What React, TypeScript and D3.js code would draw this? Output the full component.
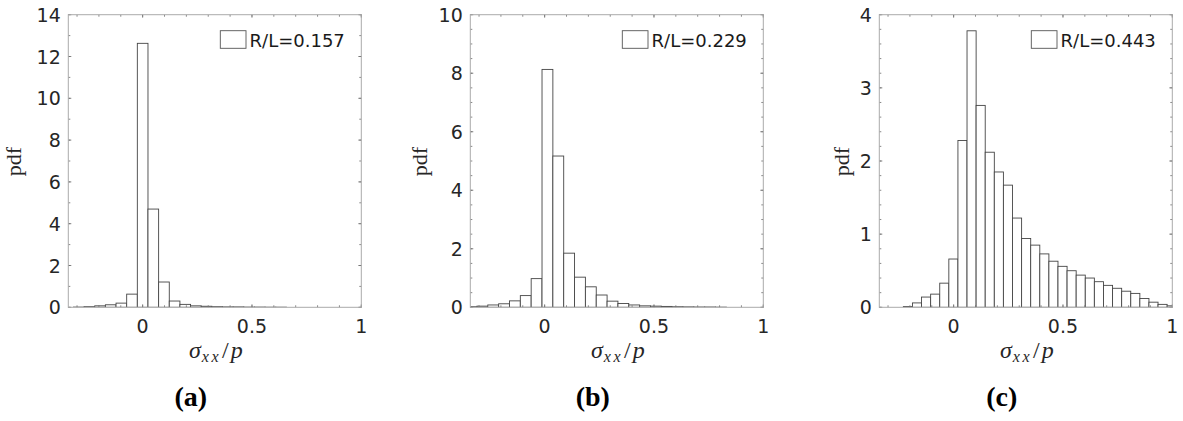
import React from "react";
import * as d3 from "d3";

// ---------- data ----------
const panelLabels = ["(a)", "(b)", "(c)"];
const legendLabels = ["R/L=0.157", "R/L=0.229", "R/L=0.443"];

const binStartA = -0.3165;
const binWidthA = 0.0487;
const pdfA = [0.01, 0.03, 0.07, 0.12, 0.2, 0.63, 12.63, 4.7, 1.21, 0.3, 0.14, 0.07, 0.05, 0.03, 0.02, 0.02, 0.01, 0.01, 0.005, 0.005];

const binStartB = -0.3592;
const binWidthB = 0.0496;
const pdfB = [0.02, 0.04, 0.08, 0.12, 0.22, 0.4, 0.98, 8.13, 5.17, 1.85, 1.03, 0.7, 0.42, 0.21, 0.13, 0.08, 0.05, 0.04, 0.03, 0.02, 0.015, 0.01, 0.01, 0.005];

const binStartC = -0.23;
const binWidthC = 0.0416;
const pdfC = [0.01, 0.06, 0.14, 0.18, 0.33, 0.66, 2.28, 3.78, 2.76, 2.12, 1.85, 1.67, 1.22, 0.94, 0.85, 0.73, 0.63, 0.56, 0.5, 0.44, 0.4, 0.35, 0.3, 0.26, 0.22, 0.19, 0.12, 0.07, 0.04, 0.02];

const xDomain = [-0.34, 1];
const xTicks = [0, 0.5, 1];
const xTickLabels = ["0", "0.5", "1"];
const yMaxes = [14, 10, 4];
const yMajorSteps = [2, 2, 1];
const yMinorSteps = [1, 0.5, 0.2];

// ---------- layout ----------
const W = 1183;
const H = 421;
const panelLefts = [68.3, 470.3, 879.3];
const plotTop = 14.7;
const plotW = 293;
const plotH = 292.6;
const yLabelOffsets = [47, 43, 30];

const panels = [
  { start: binStartA, width: binWidthA, values: pdfA },
  { start: binStartB, width: binWidthB, values: pdfB },
  { start: binStartC, width: binWidthC, values: pdfC },
];

function range(a: number, b: number, step: number) {
  const out: number[] = [];
  const n = Math.round((b - a) / step);
  for (let i = 0; i <= n; i++) out.push(+(a + i * step).toFixed(6));
  return out;
}

const tickFont = "'DejaVu Sans', sans-serif";
const mathFont = "'Liberation Serif', 'DejaVu Serif', serif";

function Panel({ idx }: { idx: number }) {
  const p = panels[idx];
  const left = panelLefts[idx];
  const right = left + plotW;
  const top = plotTop;
  const bottom = plotTop + plotH;
  const xs = d3.scaleLinear().domain(xDomain).range([left, right]);
  const ys = d3.scaleLinear().domain([0, yMaxes[idx]]).range([bottom, top]);
  const yMajor = range(0, yMaxes[idx], yMajorSteps[idx]);
  const yMinor = range(0, yMaxes[idx], yMinorSteps[idx]);
  const xMinor = range(-0.3, 1, 0.1);
  const clipId = `clip-${idx}`;
  const cx = (left + right) / 2;
  const majLen = 3;
  const minLen = 2;
  const tickColor = "#6a6a6a";

  return (
    <g>
      <defs>
        <clipPath id={clipId}>
          <rect x={left} y={top} width={plotW} height={plotH} />
        </clipPath>
      </defs>
      <rect x={left} y={top} width={plotW} height={plotH} fill="#fff" />
      <g clipPath={`url(#${clipId})`}>
        {p.values.map((v, i) => {
          const x0 = p.start + i * p.width;
          const x1 = x0 + p.width;
          return (
            <rect
              key={i}
              x={xs(x0)}
              y={ys(v)}
              width={xs(x1) - xs(x0)}
              height={ys(0) - ys(v)}
              fill="#fff"
              stroke="#454545"
              strokeWidth={0.9}
            />
          );
        })}
      </g>
      {/* ticks */}
      <g stroke={tickColor} strokeWidth={0.8}>
        {yMinor.map((t, i) => (
          <g key={"ym" + i}>
            <line x1={left} x2={left + minLen} y1={ys(t)} y2={ys(t)} />
            <line x1={right} x2={right - minLen} y1={ys(t)} y2={ys(t)} />
          </g>
        ))}
        {yMajor.map((t, i) => (
          <g key={"yM" + i}>
            <line x1={left} x2={left + majLen} y1={ys(t)} y2={ys(t)} />
            <line x1={right} x2={right - majLen} y1={ys(t)} y2={ys(t)} />
          </g>
        ))}
        {xMinor.map((t, i) => (
          <g key={"xm" + i}>
            <line x1={xs(t)} x2={xs(t)} y1={bottom} y2={bottom - minLen} />
            <line x1={xs(t)} x2={xs(t)} y1={top} y2={top + minLen} />
          </g>
        ))}
        {xTicks.map((t, i) => (
          <g key={"xM" + i}>
            <line x1={xs(t)} x2={xs(t)} y1={bottom} y2={bottom - majLen} />
            <line x1={xs(t)} x2={xs(t)} y1={top} y2={top + majLen} />
          </g>
        ))}
      </g>
      <rect x={left} y={top} width={plotW} height={plotH} fill="none" stroke="#ababab" strokeWidth={1} />
      {/* y tick labels */}
      {yMajor.map((t, i) => (
        <text
          key={"yl" + i}
          x={left - 7.5}
          y={ys(t)}
          textAnchor="end"
          dominantBaseline="central"
          fontFamily={tickFont}
          fontSize={19}
          fill="#262626"
        >
          {d3.format("~g")(t)}
        </text>
      ))}
      {/* x tick labels */}
      {xTicks.map((t, i) => (
        <text
          key={"xl" + i}
          x={xs(t)}
          y={333}
          textAnchor="middle"
          fontFamily={tickFont}
          fontSize={19}
          fill="#262626"
        >
          {xTickLabels[i]}
        </text>
      ))}
      {/* legend */}
      <rect x={right - 141} y={30.7} width={25.7} height={17.6} fill="#fff" stroke="#555" strokeWidth={0.9} />
      <text x={right - 111.7} y={46.7} fontFamily={tickFont} fontSize={18} fill="#1a1a1a">
        {legendLabels[idx]}
      </text>
      {/* y label */}
      <text
        transform={`translate(${left - yLabelOffsets[idx]},${161.7}) rotate(-90)`}
        textAnchor="middle"
        fontFamily={mathFont}
        fontSize={22}
        fill="#262626"
      >
        pdf
      </text>
      {/* x label */}
      <text x={cx + 1} y={358} textAnchor="middle" fontFamily={mathFont} fontSize={24} fill="#262626">
        <tspan fontStyle="italic">σ</tspan>
        <tspan fontStyle="italic" fontSize={16} dy={3.5} dx={1} letterSpacing={2.5}>xx</tspan>
        <tspan dy={-3.5} dx={1}>/</tspan>
        <tspan fontStyle="italic" dx={2}>p</tspan>
      </text>
      {/* panel caption */}
      <text
        x={cx - 24}
        y={405.5}
        textAnchor="middle"
        fontFamily={mathFont}
        fontWeight="bold"
        fontSize={28}
        fill="#000"
      >
        {panelLabels[idx]}
      </text>
    </g>
  );
}

export default function App() {
  return (
    <svg
      width={W}
      height={H}
      viewBox={`0 0 ${W} ${H}`}
      style={{ position: "absolute", left: 0, top: 0, background: "#fff" }}
    >
      <rect x={0} y={0} width={W} height={H} fill="#fff" />
      {panels.map((_, i) => (
        <Panel key={i} idx={i} />
      ))}
    </svg>
  );
}
